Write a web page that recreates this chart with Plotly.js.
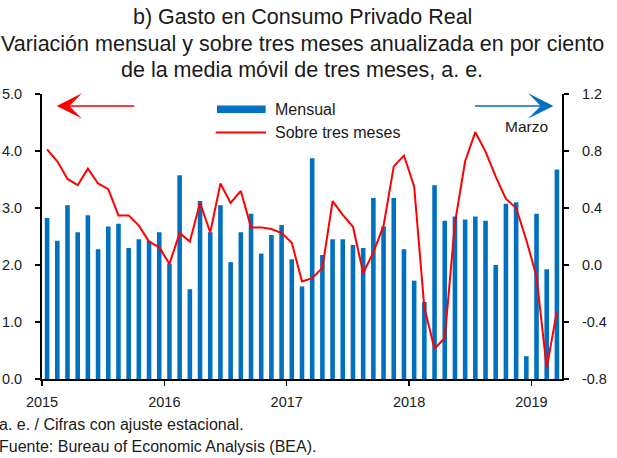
<!DOCTYPE html>
<html>
<head>
<meta charset="utf-8">
<script src="https://cdn.plot.ly/plotly-3.0.1.min.js"></script>
<style>html,body{margin:0;padding:0;background:#fff;}#chart{width:617px;height:458px;}</style>
</head>
<body>
<div id="chart"></div>
<script>
// Months Jan 2015 .. Mar 2019 (index 0..50)
var months = [];
for (var yr = 2015; yr <= 2019; yr++) {
  for (var m = 1; m <= 12; m++) {
    if (yr === 2019 && m > 3) break;
    months.push(yr + '-' + (m < 10 ? '0' + m : m));
  }
}
// Mensual (bars, right axis, %)
var mensual = [
  0.33, 0.17, 0.42, 0.23, 0.35, 0.11, 0.27, 0.29, 0.12, 0.18, 0.17, 0.23,
  0.01, 0.63, -0.17, 0.45, 0.23, 0.42, 0.02, 0.23, 0.36, 0.08, 0.21, 0.28,
  0.04, -0.15, 0.75, 0.07, 0.18, 0.18, 0.14, 0.12, 0.47, 0.27, 0.47, 0.11,
  -0.11, -0.26, 0.56, 0.31, 0.34, 0.32, 0.34, 0.31, 0.00, 0.43, 0.44, -0.64,
  0.36, -0.03, 0.67
];
// Sobre tres meses (line, left axis, %)
var tresMeses = [
  4.03, 3.82, 3.51, 3.40, 3.69, 3.43, 3.33, 2.87, 2.87, 2.69, 2.41, 2.31,
  2.02, 2.56, 2.41, 3.09, 2.57, 3.43, 3.09, 3.30, 2.66, 2.66, 2.63, 2.56,
  2.39, 1.71, 1.77, 1.95, 3.12, 2.88, 2.67, 1.86, 2.22, 2.69, 3.73, 3.92,
  3.38, 1.25, 0.53, 0.72, 2.74, 3.82, 4.33, 3.99, 3.55, 3.16, 3.00, 2.44,
  1.80, 0.19, 1.19
];
var yearLabels = ['2015', '2016', '2017', '2018', '2019'];
var leftTicks = [0, 1, 2, 3, 4, 5];
var rightTicks = [-0.8, -0.4, 0.0, 0.4, 0.8, 1.2];
var titleLines = [
  'b) Gasto en Consumo Privado Real',
  'Variación mensual y sobre tres meses anualizada en por ciento',
  'de la media móvil de tres meses, a. e.'
];

var BASE = -0.8;
var idx = months.map(function (d, i) { return i; });
var yearTickVals = yearLabels.map(function (y, k) { return k * 12 - 0.5; });

var FONT = 'Liberation Sans, Arial, sans-serif';
var TXT = '#1a1a1a';
var BLUE = '#0070C0';
var RED = '#FF0000';

var traces = [
  {
    type: 'bar', name: 'Mensual', x: idx, customdata: months,
    y: mensual.map(function (v) { return v - BASE; }), base: BASE,
    yaxis: 'y', marker: {color: BLUE, line: {width: 0}}, width: 0.45,
    showlegend: false, hovertemplate: '%{customdata}: %{text}<extra></extra>',
    text: mensual.map(function (v) { return v.toFixed(2); }), textposition: 'none'
  },
  {
    type: 'scatter', mode: 'lines', name: 'Sobre tres meses', x: idx, y: tresMeses,
    yaxis: 'y2', line: {color: RED, width: 2}, showlegend: false
  }
];

var titleY = [1.2712, 1.1765, 1.0853];
var annotations = titleLines.map(function (t, k) {
  return {xref: 'paper', yref: 'paper', x: 0.5, y: titleY[k], xanchor: 'center', yanchor: 'middle',
          text: t, showarrow: false, font: {size: 21.5, color: TXT}};
});
annotations = annotations.concat([
  {xref: 'paper', yref: 'paper', x: 0.444, y: 0.947, xanchor: 'left', yanchor: 'middle',
   text: 'Mensual', showarrow: false, font: {size: 16, color: TXT}},
  {xref: 'paper', yref: 'paper', x: 0.444, y: 0.865, xanchor: 'left', yanchor: 'middle',
   text: 'Sobre tres meses', showarrow: false, font: {size: 16, color: TXT}},
  {xref: 'x', yref: 'y2', x: 0.94, y: 4.79, ax: 79, ay: 0, axref: 'pixel', ayref: 'pixel',
   text: '', showarrow: true, arrowhead: 3, arrowsize: 2.8, arrowwidth: 1.5, arrowcolor: RED, standoff: 0},
  {xref: 'x', yref: 'y2', x: 49.66, y: 4.79, ax: -80, ay: 0, axref: 'pixel', ayref: 'pixel',
   text: '', showarrow: true, arrowhead: 3, arrowsize: 2.8, arrowwidth: 1.5, arrowcolor: BLUE, standoff: 0},
  {xref: 'x', yref: 'y2', x: 47.0, y: 4.43, xanchor: 'center', yanchor: 'middle',
   text: 'Marzo', showarrow: false, font: {size: 15.5, color: TXT}},
  {xref: 'paper', yref: 'paper', x: -0.087, y: -0.160, xanchor: 'left', yanchor: 'middle',
   text: 'a. e. / Cifras con ajuste estacional.', showarrow: false, font: {size: 16, color: TXT}},
  {xref: 'paper', yref: 'paper', x: -0.087, y: -0.2375, xanchor: 'left', yanchor: 'middle',
   text: 'Fuente: Bureau of Economic Analysis (BEA).', showarrow: false, font: {size: 16, color: TXT}}
]);

var layout = {
  width: 617, height: 458,
  margin: {l: 42, r: 55, t: 94, b: 79},
  paper_bgcolor: '#fff', plot_bgcolor: '#fff',
  font: {family: FONT, size: 14, color: TXT},
  bargap: 0.5,
  xaxis: {
    range: [-0.5, 50.5], tickmode: 'array', tickvals: yearTickVals, ticktext: yearLabels,
    ticks: 'outside', ticklen: 5, tickwidth: 1.5, tickcolor: '#000',
    showline: true, linecolor: '#000', linewidth: 2, showgrid: false, zeroline: false,
    ticklabelstandoff: 4, tickfont: {size: 14.5, color: TXT}
  },
  yaxis: {
    side: 'right', range: [-0.8, 1.2], tickmode: 'array', tickvals: rightTicks,
    ticktext: rightTicks.map(function (v) { return v.toFixed(1); }),
    ticks: 'outside', ticklen: 5, tickwidth: 1.5, tickcolor: '#000',
    showline: true, linecolor: '#000', linewidth: 2, showgrid: false, zeroline: false,
    ticklabelstandoff: 10, tickfont: {size: 14.5, color: TXT}
  },
  yaxis2: {
    overlaying: 'y', side: 'left', range: [0, 5], tickmode: 'array', tickvals: leftTicks,
    ticktext: leftTicks.map(function (v) { return v.toFixed(1); }),
    ticks: 'outside', ticklen: 5, tickwidth: 1.5, tickcolor: '#000',
    showline: true, linecolor: '#000', linewidth: 2, showgrid: false, zeroline: false,
    ticklabelstandoff: 10, tickfont: {size: 14.5, color: TXT}
  },
  shapes: [
    {type: 'rect', xref: 'paper', yref: 'paper', x0: 0.3365, x1: 0.430, y0: 0.933, y1: 0.960,
     fillcolor: BLUE, line: {width: 0}},
    {type: 'line', xref: 'paper', yref: 'paper', x0: 0.334, x1: 0.431, y0: 0.865, y1: 0.865,
     line: {color: RED, width: 2}}
  ],
  annotations: annotations
};

Plotly.newPlot('chart', traces, layout, {displayModeBar: false, staticPlot: true});
</script>
</body>
</html>
